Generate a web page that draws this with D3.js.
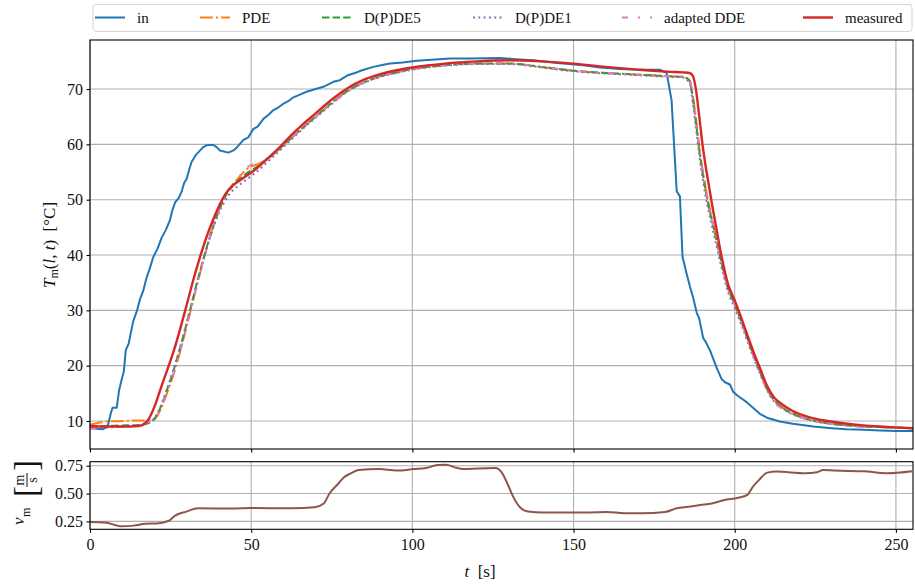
<!DOCTYPE html>
<html>
<head>
<meta charset="utf-8">
<script src="https://cdn.jsdelivr.net/npm/d3@7"></script>
<style>
body { margin: 0; background: #fff; }
svg text { font-family: "Liberation Serif", "DejaVu Serif", serif; fill: #111; }
</style>
</head>
<body>
<div class="viz"></div>
<script>
// inlet temperature (measured at pipe inlet)
var tIn = [0, 2, 4, 5.5, 6.5, 7, 8.3, 9, 9.8, 10.5, 11.1, 12, 13.4, 14.5, 15.5, 16.5, 17.5, 18.5, 19.6, 21,
  22.2, 23.5, 24.8, 25.5, 26.4, 27.5, 28.4, 29.2, 30, 30.8, 31.5, 33, 35.1, 36.5, 38.2, 39.3, 40.3, 42.9, 44.5, 45.5,
  47.6, 49, 50.7, 52, 53.8, 55.5, 56.9, 58.5, 59.9, 61.5, 63.1, 65.1, 67.2, 69.5, 72.4, 75.5, 77.5, 80, 82.7, 84.4,
  87.9, 91, 93.1, 97, 101.3, 106, 111.7, 118, 127.2, 132, 137.5, 145, 153, 158.2, 164.4, 170, 176.8, 178.9, 180.4, 181.1,
  182, 183, 183.8, 185, 186.1, 187, 188.2, 189, 190.2, 191, 192.3, 193.5, 194.4, 195.9, 197, 198.5, 199.5, 200.6, 202, 203.7,
  205.5, 207.8, 210, 214, 218, 224.4, 230, 234.7, 240, 245, 250, 255];
var inlet = [8.8, 8.6, 8.5, 9.1, 11.5, 12.4, 12.4, 15.5, 17.4, 19.0, 22.8, 24.0, 28.0, 29.8, 32.0, 33.5, 35.8, 37.5, 39.6, 41.2,
  43.1, 44.5, 46.3, 48.0, 49.5, 50.3, 51.4, 53.0, 53.8, 55.5, 56.8, 58.2, 59.5, 59.9, 59.9, 59.5, 58.9, 58.5, 58.9, 59.4,
  60.8, 61.2, 62.8, 63.2, 64.6, 65.4, 66.2, 66.7, 67.3, 67.8, 68.5, 69.0, 69.5, 69.9, 70.4, 71.3, 71.6, 72.5, 73.0, 73.4,
  74.0, 74.4, 74.6, 74.8, 75.1, 75.3, 75.5, 75.5, 75.6, 75.4, 75.2, 74.7, 74.3, 73.9, 73.6, 73.5, 73.5, 72.9, 68.0, 60.8,
  51.5, 50.6, 39.7, 36.8, 34.3, 32.5, 29.6, 28.5, 25.0, 24.3, 22.8, 21.0, 19.6, 17.6, 17.0, 16.6, 15.3, 14.7, 14.1, 13.4,
  12.5, 11.3, 10.6, 9.9, 9.5, 9.0, 8.7, 8.5, 8.4, 8.3, 8.2, 8.2];

// outlet temperature: model results and measurement
var tOut = [0, 5, 10, 15, 18, 20, 22, 24, 26, 28, 30, 32, 34, 36, 38, 40, 42, 44, 46, 48,
  50, 52, 55, 58, 62, 66, 70, 75, 80, 85, 90, 95, 100, 110, 120, 130, 140, 150, 160, 170,
  180, 184, 186, 187, 188, 189, 190, 191, 192, 193, 194, 196, 198, 200, 202, 204, 206, 208, 210, 212,
  215, 218, 222, 226, 230, 235, 240, 245, 250, 255];
var pde = [9.3, 9.9, 10.0, 10.1, 10.1, 10.4, 12.2, 15.2, 18.6, 22.6, 27.1, 31.8, 36.4, 40.8, 44.8, 48.2, 50.9, 52.6, 53.9, 55.2,
  56.0, 56.4, 57.4, 58.8, 60.9, 63.0, 65.0, 67.5, 69.7, 71.2, 72.3, 73.0, 73.6, 74.3, 74.6, 74.6, 74.0, 73.3, 72.9, 72.6,
  72.3, 72.2, 71.6, 68.8, 64.5, 59.5, 55.5, 52.0, 49.0, 46.4, 43.9, 38.6, 34.1, 31.2, 28.2, 25.0, 21.8, 18.8, 15.9, 14.0,
  12.4, 11.4, 10.5, 9.9, 9.5, 9.2, 9.0, 8.9, 8.8, 8.7];
var dpde5 = [9.0, 9.1, 9.2, 9.3, 9.6, 10.4, 12.6, 15.8, 19.3, 23.3, 27.7, 32.3, 36.8, 41.0, 44.8, 48.0, 50.6, 52.3, 53.5, 54.5,
  55.3, 56.0, 57.3, 58.8, 60.9, 63.0, 65.0, 67.5, 69.7, 71.2, 72.3, 73.0, 73.6, 74.3, 74.6, 74.6, 74.0, 73.3, 72.9, 72.6,
  72.3, 72.2, 71.4, 68.3, 63.8, 59.0, 55.0, 51.6, 48.6, 46.0, 43.5, 38.3, 33.8, 31.0, 28.0, 24.8, 21.6, 18.6, 15.8, 13.9,
  12.3, 11.3, 10.4, 9.9, 9.5, 9.2, 9.0, 8.9, 8.8, 8.7];
var dpde1 = [8.7, 8.8, 9.0, 9.2, 9.6, 10.5, 12.8, 16.0, 19.5, 23.4, 27.8, 32.3, 36.7, 40.8, 44.5, 47.6, 49.9, 51.5, 52.5, 53.4,
  54.3, 55.2, 56.8, 58.4, 60.6, 62.8, 64.8, 67.3, 69.6, 71.1, 72.2, 72.9, 73.5, 74.2, 74.5, 74.5, 73.9, 73.2, 72.8, 72.5,
  72.2, 72.1, 71.0, 67.5, 62.8, 58.0, 54.0, 50.5, 47.6, 45.0, 42.5, 37.5, 33.2, 30.4, 27.5, 24.3, 21.2, 18.3, 15.6, 13.7,
  12.2, 11.2, 10.4, 9.8, 9.5, 9.2, 9.0, 8.9, 8.8, 8.7];
var adaptedDde = [8.6, 8.8, 9.0, 9.3, 9.9, 10.8, 12.5, 15.4, 18.8, 22.7, 27.2, 31.9, 36.5, 40.8, 44.6, 48.0, 50.7, 52.5, 54.0, 55.4,
  56.3, 56.5, 57.4, 58.8, 60.9, 63.0, 65.0, 67.4, 69.6, 71.2, 72.3, 73.0, 73.6, 74.3, 74.6, 74.6, 74.0, 73.3, 72.9, 72.6,
  72.3, 72.2, 71.5, 68.6, 64.2, 59.4, 55.4, 52.0, 49.0, 46.3, 43.8, 38.5, 34.0, 31.0, 28.0, 24.7, 21.4, 18.4, 15.6, 13.6,
  12.1, 11.2, 10.4, 9.9, 9.5, 9.2, 9.0, 8.9, 8.8, 8.7];
var measured = [9.1, 9.0, 9.0, 9.1, 10.2, 12.6, 16.0, 19.3, 22.7, 26.7, 31.0, 35.4, 39.4, 43.0, 46.1, 48.8, 51.0, 52.4, 53.3, 54.1,
  54.9, 55.8, 57.4, 59.0, 61.4, 63.6, 65.6, 68.1, 70.2, 71.7, 72.7, 73.4, 73.9, 74.6, 75.0, 75.2, 75.0, 74.6, 74.0, 73.5,
  73.1, 73.0, 72.9, 72.4, 69.8, 65.0, 60.0, 56.0, 52.5, 49.0, 45.8, 39.5, 34.6, 31.8, 28.7, 25.4, 22.2, 19.3, 16.4, 14.4,
  12.9, 11.8, 10.9, 10.3, 9.9, 9.5, 9.2, 9.0, 8.85, 8.7];

// flow velocity
var tVel = [0, 4.5, 10, 13.6, 17.2, 20.8, 24.5, 26.3, 29.9, 33.5, 44.4, 49.8, 62.5, 69.7, 72.5, 74.3, 77, 78.8, 80.6, 83.3,
  89.7, 95.1, 100.5, 104.2, 107.8, 110.5, 113.2, 115.9, 120.5, 125.9, 127.7, 129.5, 131.3, 133.2, 135.9, 140.4, 153.1, 160.3, 165.8, 171.2,
  178.4, 182, 185.7, 189.3, 192.9, 196.6, 201.1, 203.8, 205.6, 207.4, 210.1, 212.9, 221.9, 225.5, 227.4, 231, 240, 247.3, 255];
var velocity = [0.244, 0.241, 0.206, 0.212, 0.229, 0.232, 0.256, 0.300, 0.338, 0.368, 0.365, 0.370, 0.368, 0.376, 0.410, 0.500, 0.588, 0.647, 0.676, 0.712,
  0.720, 0.706, 0.720, 0.729, 0.756, 0.759, 0.735, 0.720, 0.726, 0.729, 0.690, 0.588, 0.470, 0.382, 0.338, 0.329, 0.329, 0.335, 0.324, 0.324,
  0.335, 0.368, 0.382, 0.397, 0.410, 0.440, 0.462, 0.485, 0.560, 0.618, 0.688, 0.697, 0.682, 0.691, 0.712, 0.706, 0.700, 0.682, 0.700];

var tempTicks = [10, 20, 30, 40, 50, 60, 70];
var velTicks = [0.25, 0.50, 0.75];
var timeTicks = [0, 50, 100, 150, 200, 250];

var series = [
  { name: "in", t: tIn, y: inlet, color: "#1f77b4", dash: null, w: 2 },
  { name: "PDE", t: tOut, y: pde, color: "#ff7f0e", dash: "12.8,3.2,2,3.2", w: 2 },
  { name: "D(P)DE5", t: tOut, y: dpde5, color: "#2ca02c", dash: "7.4,3.2", w: 2 },
  { name: "D(P)DE1", t: tOut, y: dpde1, color: "#9467bd", dash: "2,3.3", w: 2 },
  { name: "adapted DDE", t: tOut, y: adaptedDde, color: "#e377c2", dash: "6,10,2,10", w: 2 },
  { name: "measured", t: tOut, y: measured, color: "#d62728", dash: null, w: 2.4 }
];

var width = 915, height = 586;
var left = 90, right = 913;
var top1 = 40, bottom1 = 449;
var top2 = 461.7, bottom2 = 529.3;

var svg = d3.select(".viz").append("svg")
  .attr("width", width)
  .attr("height", height);

// scales
var xScale = d3.scaleLinear().domain([0, 255.3]).range([left, right]);
var yTemp = d3.scaleLinear().domain([4.94, 78.86]).range([bottom1, top1]);
var yVel = d3.scaleLinear().domain([0.179, 0.786]).range([bottom2, top2]);

var gridColor = "#b0b0b0";

function drawGrid(yScale, yTicks, y0, y1) {
  var g = svg.append("g").attr("class", "grid");
  g.selectAll(".vx").data(timeTicks).enter().append("line")
    .attr("x1", d => xScale(d)).attr("x2", d => xScale(d))
    .attr("y1", y0).attr("y2", y1)
    .attr("stroke", gridColor).attr("stroke-width", 1.1);
  g.selectAll(".hy").data(yTicks).enter().append("line")
    .attr("x1", left).attr("x2", right)
    .attr("y1", d => yScale(d)).attr("y2", d => yScale(d))
    .attr("stroke", gridColor).attr("stroke-width", 1.1);
}
drawGrid(yTemp, tempTicks, top1, bottom1);
drawGrid(yVel, velTicks, top2, bottom2);

// clip regions
svg.append("clipPath").attr("id", "clip1").append("rect")
  .attr("x", left).attr("y", top1).attr("width", right - left).attr("height", bottom1 - top1);
svg.append("clipPath").attr("id", "clip2").append("rect")
  .attr("x", left).attr("y", top2).attr("width", right - left).attr("height", bottom2 - top2);

// temperature lines
var plot1 = svg.append("g").attr("clip-path", "url(#clip1)");
series.forEach(function(s) {
  var pts = s.t.map((t, i) => [t, s.y[i]]);
  var line = d3.line()
    .x(d => xScale(d[0]))
    .y(d => yTemp(d[1]))
    .curve(s.name == "in" ? d3.curveLinear : d3.curveMonotoneX);
  plot1.append("path")
    .datum(pts)
    .attr("d", line)
    .attr("fill", "none")
    .attr("stroke", s.color)
    .attr("stroke-width", s.w)
    .attr("stroke-dasharray", s.dash)
    .attr("stroke-linejoin", "round")
    .attr("stroke-linecap", s.dash ? "butt" : "square");
});

// velocity line
var plot2 = svg.append("g").attr("clip-path", "url(#clip2)");
plot2.append("path")
  .datum(tVel.map((t, i) => [t, velocity[i]]))
  .attr("d", d3.line().x(d => xScale(d[0])).y(d => yVel(d[1])).curve(d3.curveMonotoneX))
  .attr("fill", "none")
  .attr("stroke", "#8c564b")
  .attr("stroke-width", 2)
  .attr("stroke-linejoin", "round");

// axes
function styleAxis(g) {
  g.select(".domain").remove();
  g.selectAll(".tick line").attr("stroke", "#000").attr("stroke-width", 1.1);
  g.selectAll(".tick text").attr("font-size", 16).attr("fill", "#111");
}
svg.append("g")
  .attr("transform", "translate(" + left + ",0)")
  .call(d3.axisLeft(yTemp).tickValues(tempTicks).tickSize(3.5).tickPadding(3.5))
  .call(styleAxis);
svg.append("g")
  .attr("transform", "translate(0," + bottom1 + ")")
  .call(d3.axisBottom(xScale).tickValues(timeTicks).tickSize(3.5).tickFormat(""))
  .call(styleAxis);
svg.append("g")
  .attr("transform", "translate(" + left + ",0)")
  .call(d3.axisLeft(yVel).tickValues(velTicks).tickSize(3.5).tickPadding(3.5).tickFormat(d3.format(".2f")))
  .call(styleAxis);
svg.append("g")
  .attr("transform", "translate(0," + bottom2 + ")")
  .call(d3.axisBottom(xScale).tickValues(timeTicks).tickSize(3.5).tickPadding(6))
  .call(styleAxis);

// frames
[[top1, bottom1], [top2, bottom2]].forEach(function(p) {
  svg.append("rect")
    .attr("x", left).attr("y", p[0])
    .attr("width", right - left).attr("height", p[1] - p[0])
    .attr("fill", "none").attr("stroke", "#000").attr("stroke-width", 1.1);
});

// axis labels
var yl = svg.append("text")
  .attr("transform", "translate(55,245) rotate(-90)")
  .attr("text-anchor", "middle")
  .attr("font-size", 17);
yl.append("tspan").attr("font-style", "italic").text("T");
yl.append("tspan").attr("font-size", 12).attr("dy", 3).text("m");
yl.append("tspan").attr("dy", -3).text("(");
yl.append("tspan").attr("font-style", "italic").text("l");
yl.append("tspan").text(", ");
yl.append("tspan").attr("font-style", "italic").text("t");
yl.append("tspan").text(")\u2002[\u00b0C]");

var xl = svg.append("text")
  .attr("x", 480).attr("y", 577)
  .attr("text-anchor", "middle")
  .attr("font-size", 17);
xl.append("tspan").attr("font-style", "italic").text("t");
xl.append("tspan").text("\u2002[s]");

// velocity label: v_m [m/s]
var vl = svg.append("g").attr("transform", "translate(27,495) rotate(-90)");
vl.append("text").attr("x", -30).attr("y", -3).attr("font-size", 17).attr("font-style", "italic").text("v");
vl.append("text").attr("x", -22).attr("y", 3).attr("font-size", 12).text("m");
vl.append("text").attr("x", -2).attr("y", 10).attr("font-size", 33).attr("font-weight", 300).text("[");
vl.append("text").attr("x", 15).attr("y", -3).attr("font-size", 14).attr("text-anchor", "middle").text("m");
vl.append("line").attr("x1", 8).attr("x2", 22).attr("y1", 0).attr("y2", 0).attr("stroke", "#111").attr("stroke-width", 1);
vl.append("text").attr("x", 15).attr("y", 10).attr("font-size", 14).attr("text-anchor", "middle").text("s");
vl.append("text").attr("x", 24).attr("y", 10).attr("font-size", 33).attr("font-weight", 300).text("]");

// legend
var legendBox = svg.append("rect")
  .attr("x", 93).attr("y", 4.5)
  .attr("width", 819).attr("height", 27)
  .attr("rx", 3)
  .attr("fill", "#fff").attr("fill-opacity", 0.8)
  .attr("stroke", "#d5d5d5").attr("stroke-width", 1);

var legendX = [95, 200, 322, 473, 622, 803];
var legend = svg.append("g").selectAll("g")
  .data(series)
  .enter()
  .append("g")
  .attr("transform", (d, i) => "translate(" + legendX[i] + ",0)");
legend.append("line")
  .attr("x1", 0).attr("x2", 30)
  .attr("y1", 17.5).attr("y2", 17.5)
  .attr("stroke", d => d.color)
  .attr("stroke-width", d => d.w)
  .attr("stroke-dasharray", d => d.dash);
legend.append("text")
  .attr("x", 42).attr("y", 17.5)
  .attr("dy", "0.35em")
  .attr("font-size", 15)
  .text(d => d.name);
</script>
</body>
</html>
